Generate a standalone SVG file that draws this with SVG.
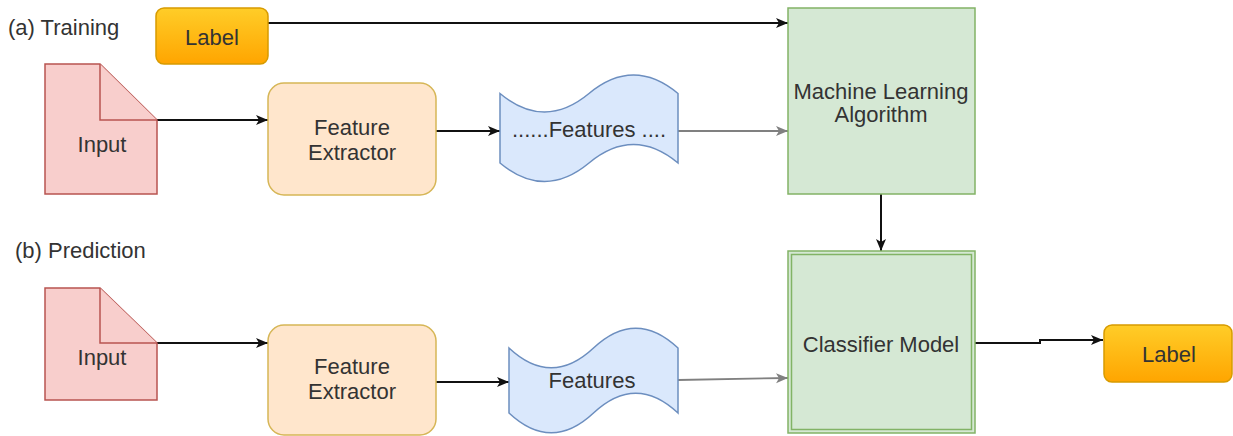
<svg xmlns="http://www.w3.org/2000/svg" width="1233" height="436" viewBox="0 0 1233 436">
<style>
text{font-family:"Liberation Sans",Arial,sans-serif;font-size:22px;fill:#333333;}
.c{text-anchor:middle;}
.doc{fill:#f8cecc;stroke:#b85450;stroke-width:1.5;}
.fe{fill:#ffe6cc;stroke:#d6b656;stroke-width:1.5;}
.tape{fill:#dae8fc;stroke:#6c8ebf;stroke-width:1.5;}
.ml{fill:#d5e8d4;stroke:#82b366;stroke-width:1.5;}
.lbl{fill:url(#og);stroke:#d79b00;stroke-width:1.5;}
.k{fill:none;stroke:#111111;stroke-width:2;marker-end:url(#ak);}
.g{fill:none;stroke:#808080;stroke-width:1.8;marker-end:url(#ag);}
</style>
<defs>
<linearGradient id="og" x1="0" y1="0" x2="0" y2="1">
<stop offset="0" stop-color="#ffcd28"/>
<stop offset="1" stop-color="#ffa500"/>
</linearGradient>
<marker id="ak" markerUnits="userSpaceOnUse" markerWidth="14" markerHeight="12" refX="12" refY="5" orient="auto">
<path d="M0,0 L12,5 L0,10 L3,5 Z" fill="#111111"/>
</marker>
<marker id="ag" markerUnits="userSpaceOnUse" markerWidth="14" markerHeight="12" refX="12" refY="5" orient="auto">
<path d="M0,0 L12,5 L0,10 L3,5 Z" fill="#808080"/>
</marker>
</defs>
<rect width="1233" height="436" fill="#ffffff"/>

<text x="8" y="35">(a) Training</text>
<text x="15" y="258">(b) Prediction</text>

<g id="connectors">
<path class="k" d="M268,23 H788"/>
<path class="k" d="M157,120 H268"/>
<path class="k" d="M436,131 H500"/>
<path class="g" d="M678,131 H788"/>
<path class="k" d="M881,194 V251"/>
<path class="k" d="M157,343 H268"/>
<path class="k" d="M436,382 H509"/>
<path class="g" d="M678,380 L788,378"/>
<path class="k" d="M975,343 H1040 V340 H1103"/>
</g>

<g id="label-top">
<rect class="lbl" x="156" y="8" width="112" height="56" rx="8"/>
<text class="c" x="212" y="45">Label</text>
</g>

<g id="input-top">
<path class="doc" d="M45,64 H100 L157,120 V194 H45 Z"/>
<path class="doc" d="M100,64 V120 H157"/>
<text class="c" x="102" y="152">Input</text>
</g>

<g id="fe-top">
<rect class="fe" x="268" y="83" width="168" height="112" rx="16"/>
<text class="c" x="352" y="135">Feature</text>
<text class="c" x="352" y="160">Extractor</text>
</g>

<g id="features-top">
<path class="tape" d="M500,93.5 Q544.5,130.4 589,93.5 Q633.5,56.6 678,93.5 L678,163 Q633.5,126.1 589,163 Q544.5,199.9 500,163 Z"/>
<text class="c" x="589" y="137">......Features ....</text>
</g>

<g id="ml">
<rect class="ml" x="788" y="8" width="187" height="186"/>
<text class="c" x="881" y="99">Machine Learning</text>
<text class="c" x="881" y="122">Algorithm</text>
</g>

<g id="input-bottom">
<path class="doc" d="M45,288 H100 L157,343 V400 H45 Z"/>
<path class="doc" d="M100,288 V343 H157"/>
<text class="c" x="102" y="365">Input</text>
</g>

<g id="fe-bottom">
<rect class="fe" x="268" y="325" width="168" height="110" rx="16"/>
<text class="c" x="352" y="374">Feature</text>
<text class="c" x="352" y="399">Extractor</text>
</g>

<g id="features-bottom">
<path class="tape" d="M509,348 Q551.25,387.6 593.5,348 Q635.75,308.4 678,348 L678,413 Q635.75,373.4 593.5,413 Q551.25,452.6 509,413 Z"/>
<text class="c" x="592" y="388">Features</text>
</g>

<g id="classifier">
<rect class="ml" x="788" y="251" width="187" height="182"/>
<rect x="791.5" y="254.5" width="180" height="175" fill="none" stroke="#82b366" stroke-width="1.5"/>
<text class="c" x="881" y="352">Classifier Model</text>
</g>

<g id="label-bottom">
<rect class="lbl" x="1104" y="325" width="128" height="57" rx="8"/>
<text class="c" x="1169" y="362">Label</text>
</g>
</svg>
